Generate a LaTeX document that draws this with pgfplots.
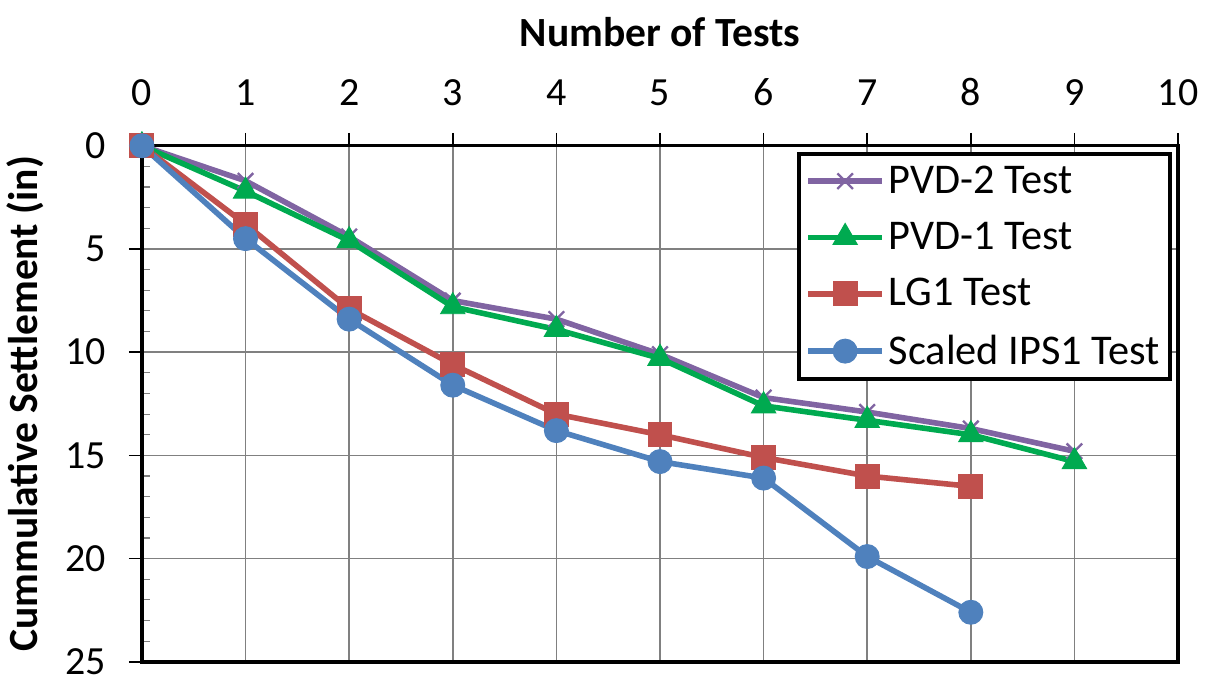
\documentclass[border=0pt]{standalone}
\usepackage{fontspec}
\setmainfont{Carlito}
\usepackage{pgfplots}
\pgfplotsset{compat=1.18}

\definecolor{pvdtwo}{RGB}{128,100,162}
\definecolor{pvdone}{RGB}{0,170,80}
\definecolor{lgone}{RGB}{192,80,77}
\definecolor{ipsone}{RGB}{79,129,189}

\newcommand{\tickfont}{\fontsize{20}{24}\selectfont}
\newcommand{\labfont}{\fontsize{20.8}{25}\selectfont}
\newcommand{\legfont}{\fontsize{21.2}{25}\selectfont}

\begin{document}
\begin{tikzpicture}
\begin{axis}[
  name=ax,
  scale only axis,
  width=519pt, height=258.5pt,
  xmin=0, xmax=10, ymin=0, ymax=25,
  y dir=reverse,
  xtick={0,...,10}, ytick={0,5,...,25},
  minor y tick num=4,
  xtick pos=upper, xticklabel pos=upper,
  ytick pos=left,
  tick align=outside,
  major tick length=6.5pt,
  minor tick length=4pt,
  minor y tick style={xshift=4pt, line width=0.6pt},
  major tick style={line width=0.8pt, black},
  grid=major,
  major grid style={line width=0.8pt, gray},
  axis line style={line width=1.7pt, black},
  /pgf/number format/assume math mode=true,
  tick label style={font=\tickfont},
  xticklabel style={yshift=10pt},
  yticklabel style={xshift=-8pt},
  xlabel={\textbf{Number of Tests}},
  ylabel={\textbf{Cummulative Settlement (in)}},
  label style={font=\labfont},
  xlabel style={yshift=9pt},
  ylabel style={yshift=4pt},
  legend cell align=left,
  legend style={at={(0.994,0.988)}, anchor=north east, draw=black,
    line width=2pt, font=\legfont, row sep=9pt, inner xsep=3pt, inner ysep=4pt},
  legend image code/.code={\draw[mark repeat=2,mark phase=2] plot coordinates {(0cm,0cm)(0.65cm,0cm)(1.3cm,0cm)};},
]
\addplot[pvdtwo, line width=2.8pt, mark=x, mark size=5.5pt, mark options={line width=1.2pt}]
  coordinates {(0,0) (1,1.7) (2,4.4) (3,7.5) (4,8.4) (5,10.1) (6,12.2) (7,12.9) (8,13.7) (9,14.8)};
\addlegendentry{PVD-2 Test}
\addplot[pvdone, line width=2.8pt, mark=triangle*, mark size=7pt, mark options={line width=0.5pt}]
  coordinates {(0,0) (1,2.2) (2,4.6) (3,7.8) (4,8.9) (5,10.3) (6,12.6) (7,13.3) (8,14.0) (9,15.3)};
\addlegendentry{PVD-1 Test}
\addplot[lgone, line width=2.8pt, mark=square*, mark size=6pt, mark options={line width=0.5pt}]
  coordinates {(0,0) (1,3.8) (2,7.9) (3,10.6) (4,13.0) (5,14.0) (6,15.1) (7,16.0) (8,16.5)};
\addlegendentry{LG1 Test}
\addplot[ipsone, line width=2.8pt, mark=*, mark size=6pt, mark options={line width=0.5pt}]
  coordinates {(0,0) (1,4.5) (2,8.4) (3,11.6) (4,13.8) (5,15.3) (6,16.1) (7,19.9) (8,22.6)};
\addlegendentry{Scaled IPS1 Test}
\end{axis}
\path ([shift={(-70pt,-9pt)}]ax.south west) rectangle ([shift={(535pt,331.5pt)}]ax.south west);
\end{tikzpicture}
\end{document}
